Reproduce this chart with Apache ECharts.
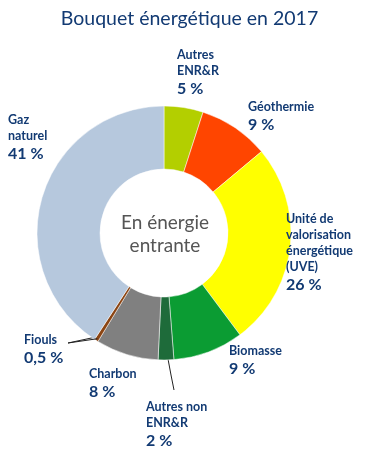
<!DOCTYPE html>
<html><head><meta charset="utf-8">
<script src="https://cdn.jsdelivr.net/npm/echarts@6/dist/echarts.min.js"></script>
<style>html,body{margin:0;padding:0;background:#fff}#c{width:379px;height:454px}</style>
</head><body><div id="c"></div>
<script>
const categories = ["Autres\nENR&R", "Géothermie", "Unité de\nvalorisation\nénergétique\n(UVE)", "Biomasse", "Autres non\nENR&R", "Charbon", "Fiouls", "Gaz\nnaturel"];
const values = [5, 9, 26, 9, 2, 8, 0.5, 41];
const colors = ["#b3cf00", "#ff4500", "#ffff00", "#0b9c33", "#1e6b3a", "#808080", "#8b4513", "#b6c8dd"];
const centerText = "En énergie\nentrante";
const titleText = "Bouquet énergétique en 2017";

// layout constants
const CX = 164, CY = 233, R0 = 64, R1 = 127;
// label layout (positions of label boxes, top-left)
const labelPos = [[177,47],[248,99],[286,211],[229,343],[146,399],[89,366],[24,332],[8,112]];
const lineSegs = {4: [[168,359],[171,375],[174,390]], 6: [[96,337],[82,340],[68,343]]};

// leader line for the thin "Fiouls" slice, anchored on the slice's mid angle
const total = values.reduce((a, b) => a + b, 0);
const before = values.slice(0, 6).reduce((a, b) => a + b, 0);
const midAng = (before + values[6] / 2) / total * 2 * Math.PI;
const fStart = [CX + (R1 - 2) * Math.sin(midAng), CY - (R1 - 2) * Math.cos(midAng)];
const fEnd = [labelPos[6][0] + 44, labelPos[6][1] + 11];

const chart = echarts.init(document.getElementById('c'));
const navy = '#123a73';
chart.setOption({
  animation: false,
  title: {
    text: titleText, left: 'center', top: 4,
    textStyle: {fontFamily: 'Lato', fontSize: 19.5, fontWeight: 'normal', color: navy}
  },
  graphic: [{
    type: 'text', x: CX + 1, y: CY + 1, z: 10,
    style: {text: centerText, align: 'center', verticalAlign: 'middle',
      fontFamily: 'Lato', fontSize: 19, lineHeight: 23, fill: '#555555'}
  }, {
    type: 'polyline', z: 100, silent: true,
    shape: {points: [fStart, fEnd]},
    style: {stroke: '#222', lineWidth: 1, fill: null}
  }],
  series: [{
    type: 'pie',
    center: [CX, CY],
    radius: [R0, R1],
    startAngle: 90,
    clockwise: true,
    avoidLabelOverlap: false,
    itemStyle: {borderColor: '#fff', borderWidth: 0.5},
    label: {
      show: true, position: 'outside', color: navy, overflow: 'none',
      formatter: p => {
        const lines = p.name.split('\n').map(s => '{n|' + s + '}');
        lines.push('{p|' + String(p.value).replace('.', ',') + ' %}');
        return lines.join('\n');
      },
      rich: {
        n: {fontFamily: 'Lato', fontSize: 12.5, fontWeight: 'bold', lineHeight: 16, color: navy},
        p: {fontFamily: 'Lato', fontSize: 16, fontWeight: 'bold', lineHeight: 20, color: navy}
      }
    },
    labelLine: {show: false, showAbove: true},
    labelLayout: p => {
      const i = p.dataIndex;
      const o = {x: labelPos[i][0], y: labelPos[i][1], align: 'left', verticalAlign: 'top', hideOverlap: false};
      if (lineSegs[i]) o.labelLinePoints = lineSegs[i];
      return o;
    },
    data: categories.map((c, i) => ({
      name: c, value: values[i], itemStyle: {color: colors[i]},
      labelLine: {show: !!lineSegs[i], showAbove: true, lineStyle: {color: '#222', width: 1}}
    }))
  }]
});
</script></body></html>
